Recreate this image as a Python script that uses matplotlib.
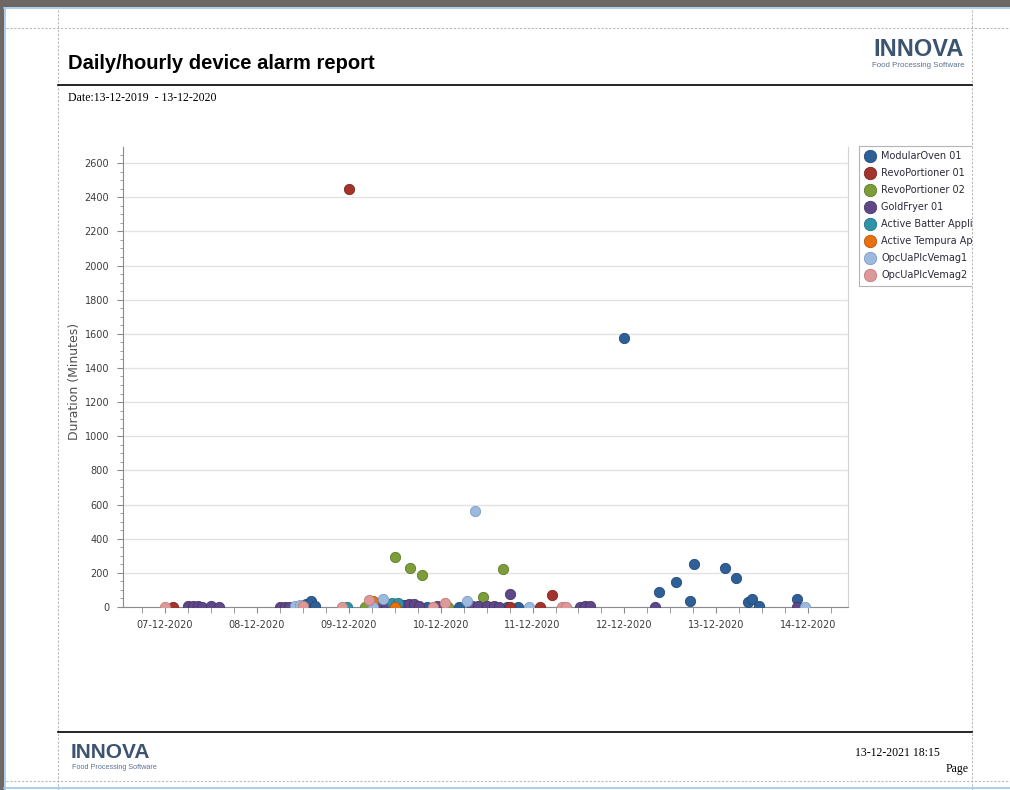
import matplotlib
matplotlib.use("Agg")
import matplotlib.pyplot as plt
import matplotlib.dates as mdates
from matplotlib.patches import Rectangle
from matplotlib.lines import Line2D
from matplotlib.ticker import MultipleLocator
from matplotlib.transforms import Bbox, TransformedBbox
import pandas as pd

W, H = 1010, 790

# Alarm durations (minutes) per device
modular_times = ["2020-12-08 12:50", "2020-12-08 14:10", "2020-12-08 15:10", "2020-12-09 13:55",
                 "2020-12-09 20:30", "2020-12-10 04:50", "2020-12-10 17:20", "2020-12-10 20:15",
                 "2020-12-11 23:55", "2020-12-12 09:05", "2020-12-12 13:25", "2020-12-12 17:10",
                 "2020-12-12 18:15", "2020-12-13 02:20", "2020-12-13 05:10", "2020-12-13 08:10",
                 "2020-12-13 09:15", "2020-12-13 11:10", "2020-12-13 21:10"]
modular_vals = [15, 35, 5, 10, 0, 0, 0, 0, 1573, 90, 145, 35, 252, 227, 168, 27, 45, 6, 47]

revo1_times = ["2020-12-07 02:05", "2020-12-09 00:05", "2020-12-10 18:10", "2020-12-11 02:00",
               "2020-12-11 05:05"]
revo1_vals = [2, 2448, 0, 0, 70]

revo2_times = ["2020-12-09 04:15", "2020-12-09 12:05", "2020-12-09 16:00", "2020-12-09 19:10",
               "2020-12-10 01:55", "2020-12-10 11:05", "2020-12-10 16:20"]
revo2_vals = [0, 292, 227, 187, 0, 60, 222]

fryer_times = ["2020-12-07 06:00", "2020-12-07 07:20", "2020-12-07 08:35", "2020-12-07 09:40",
               "2020-12-07 12:00", "2020-12-07 14:05", "2020-12-08 06:00", "2020-12-08 07:20",
               "2020-12-08 08:25", "2020-12-09 08:10", "2020-12-09 09:45", "2020-12-09 14:25",
               "2020-12-09 15:45", "2020-12-09 17:05", "2020-12-09 18:20", "2020-12-09 23:05",
               "2020-12-10 08:10", "2020-12-10 09:50", "2020-12-10 12:10", "2020-12-10 14:00",
               "2020-12-10 15:15", "2020-12-10 18:10", "2020-12-11 12:25", "2020-12-11 13:45",
               "2020-12-11 15:00", "2020-12-12 08:00", "2020-12-13 21:10"]
fryer_vals = [3, 5, 4, 2, 3, 2, 0, 2, 0, 5, 8, 12, 15, 20, 5, 5, 3, 5, 5, 3, 2, 76, 2, 5, 3, 0, 0]

batter_times = ["2020-12-08 23:35", "2020-12-09 11:20", "2020-12-09 12:55"]
batter_vals = [0, 22, 25]

tempura_times = ["2020-12-09 06:20", "2020-12-09 12:05"]
tempura_vals = [35, 2]

vemag1_times = ["2020-12-08 10:00", "2020-12-08 11:20", "2020-12-09 06:20", "2020-12-09 09:00",
                "2020-12-10 06:55", "2020-12-10 09:00", "2020-12-10 23:05", "2020-12-13 23:15"]
vemag1_vals = [5, 10, 0, 45, 35, 565, 0, 0]

vemag2_times = ["2020-12-07 00:00", "2020-12-08 12:05", "2020-12-08 22:15", "2020-12-09 05:20",
                "2020-12-09 22:00", "2020-12-10 01:10", "2020-12-11 07:40", "2020-12-11 08:45"]
vemag2_vals = [2, 5, 2, 40, 0, 25, 0, 0]

devices = ["ModularOven 01", "RevoPortioner 01", "RevoPortioner 02", "GoldFryer 01",
           "Active Batter Applicator", "Active Tempura Applicator", "OpcUaPlcVemag1", "OpcUaPlcVemag2"]
colors = ["#2f5f97", "#a3332d", "#7c9e38", "#5f4887", "#2f92a6", "#e8700e", "#9cb9de", "#dc9997"]
edges = ["#244a78", "#7e2521", "#5f7a2a", "#483668", "#237284", "#b5560a", "#7f9cc2", "#bd7c7a"]
series = [(modular_times, modular_vals), (revo1_times, revo1_vals), (revo2_times, revo2_vals),
          (fryer_times, fryer_vals), (batter_times, batter_vals), (tempura_times, tempura_vals),
          (vemag1_times, vemag1_vals), (vemag2_times, vemag2_vals)]


def fx(px):
    return px / W


def fy(py):
    return 1 - py / H


fig = plt.figure(figsize=(W / 100, H / 100), dpi=100)
fig.patch.set_facecolor("white")

# window frame
fig.add_artist(Rectangle((0, fy(7)), 1, 7 / H, transform=fig.transFigure, color="#6d6863", lw=0))
fig.add_artist(Rectangle((0, 0), 4 / W, 1, transform=fig.transFigure, color="#6d6863", lw=0))
fig.add_artist(Line2D([fx(4), 1], [fy(8), fy(8)], transform=fig.transFigure, color="#9cc8ee", lw=1.2))
fig.add_artist(Line2D([fx(5), fx(5)], [0, fy(8)], transform=fig.transFigure, color="#9cc8ee", lw=1.2))
fig.add_artist(Line2D([fx(4), 1], [fy(788), fy(788)], transform=fig.transFigure, color="#9cc8ee", lw=1.2))

# page guides
guide = dict(transform=fig.transFigure, color="#b9b9b9", lw=0.8, ls=(0, (2, 1.5)))
fig.add_artist(Line2D([fx(6), 1], [fy(28), fy(28)], **guide))
fig.add_artist(Line2D([fx(6), 1], [fy(781), fy(781)], **guide))
fig.add_artist(Line2D([fx(58), fx(58)], [0, fy(9)], **guide))
fig.add_artist(Line2D([fx(972), fx(972)], [0, fy(9)], **guide))

# header
fig.text(fx(68), fy(69), "Daily/hourly device alarm report", fontsize=14.5, fontweight="bold",
         family="Liberation Sans", color="black", va="baseline")
fig.text(fx(964), fy(56), "INNOVA", fontsize=17, fontweight="bold", family="Liberation Sans",
         color="#3d5470", ha="right", va="baseline")
fig.text(fx(964), fy(67), "Food Processing Software", fontsize=5.7, family="Liberation Sans",
         color="#5b7290", ha="right", va="baseline")
fig.add_artist(Line2D([fx(58), fx(972)], [fy(85), fy(85)], transform=fig.transFigure, color="black", lw=1.2))
fig.text(fx(68), fy(101), "Date:13-12-2019  - 13-12-2020", fontsize=8.5, family="Liberation Serif",
         color="black", va="baseline")

# footer
fig.add_artist(Line2D([fx(58), fx(972)], [fy(732), fy(732)], transform=fig.transFigure, color="black", lw=1.2))
fig.text(fx(71), fy(758), "INNOVA", fontsize=15, fontweight="bold", family="Liberation Sans",
         color="#3d5470", va="baseline")
fig.text(fx(72), fy(769), "Food Processing Software", fontsize=5.2, family="Liberation Sans",
         color="#5b7290", va="baseline")
fig.text(fx(940), fy(756), "13-12-2021 18:15", fontsize=8.5, family="Liberation Serif",
         color="black", ha="right", va="baseline")
fig.text(fx(969), fy(772), "Page", fontsize=8.5, family="Liberation Serif",
         color="black", ha="right", va="baseline")

# chart
ax = fig.add_axes([fx(123), fy(607), (848 - 123) / W, (607 - 147) / H])
handles = []
for name, (times, vals), c, ec in zip(devices, series, colors, edges):
    sc = ax.scatter(pd.to_datetime(times), vals, s=55, color=c, edgecolors=ec, linewidths=0.6,
                    zorder=3, label=name)
    handles.append(sc)

x0 = pd.Timestamp("2020-12-07")
ax.set_xlim(x0 - pd.Timedelta(hours=10.97), x0 + pd.Timedelta(hours=178.4))
ax.set_ylim(0, 2694)

ax.xaxis.set_major_locator(mdates.DayLocator())
ax.xaxis.set_major_formatter(mdates.DateFormatter("%d-%m-%Y"))
ax.xaxis.set_minor_locator(mdates.HourLocator(byhour=[6, 12, 18]))
ax.yaxis.set_major_locator(MultipleLocator(200))
ax.yaxis.set_minor_locator(MultipleLocator(50))

ax.yaxis.grid(True, which="major", color="#e3e3e3", lw=1)
ax.set_axisbelow(True)
ax.spines["top"].set_visible(False)
ax.spines["right"].set_color("#d2d2d2")
ax.spines["left"].set_color("#8c8c8c")
ax.spines["bottom"].set_color("#8c8c8c")

ax.tick_params(axis="both", which="both", colors="#8c8c8c", labelcolor="#3c3c3c", labelsize=7)
ax.tick_params(axis="x", which="major", length=4, pad=5)
ax.tick_params(axis="x", which="minor", length=4)
ax.tick_params(axis="y", which="major", length=4, pad=6)
ax.tick_params(axis="y", which="minor", length=2)
for lbl in ax.get_xticklabels() + ax.get_yticklabels():
    lbl.set_family("DejaVu Sans")

ax.set_ylabel("Duration (Minutes)", fontsize=9, family="DejaVu Sans", color="#505050")
ax.yaxis.set_label_coords(-0.058, 0.49)

leg = fig.legend(handles, devices, loc="upper left", bbox_to_anchor=(fx(859), fy(146)),
                 frameon=True, fancybox=False, edgecolor="#b4b4b4", framealpha=1,
                 prop=dict(family="DejaVu Sans", size=7), labelcolor="#2b2b3b",
                 borderpad=0.55, labelspacing=0.72, handletextpad=0.55, handlelength=1.2,
                 markerscale=1.2, scatteryoffsets=[0.5], borderaxespad=0)
leg.get_frame().set_linewidth(0.8)
clip = TransformedBbox(Bbox([[0, 0], [fx(972), 1]]), fig.transFigure)
leg.legendPatch.set_clip_box(clip)
leg.legendPatch.set_clip_on(True)
for t in leg.get_texts():
    t.set_clip_box(clip)
    t.set_clip_on(True)

fig.savefig("out.png", dpi=100)
